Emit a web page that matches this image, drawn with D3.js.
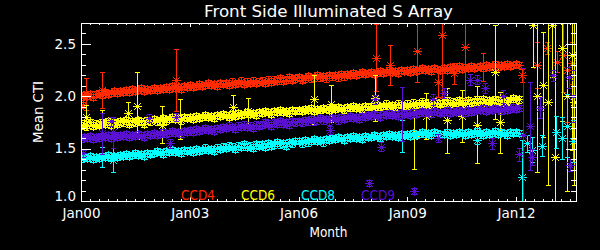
<!DOCTYPE html>
<html><head><meta charset="utf-8">
<script src="https://cdn.jsdelivr.net/npm/d3@7"></script>
<style>body{margin:0;background:#000}svg{display:block}</style>
</head><body><svg id="c" width="600" height="250"></svg>
<script>
const title = "Front Side Illuminated S Array";
const xLabel = "Month";
const yLabel = "Mean CTI";
const ccdNames = ["CCD4", "CCD6", "CCD8", "CCD9"];
const ccdColors = ["#ff2a00", "#ffff00", "#00ffff", "#5a10d0"];
const xMajorYears = [2000, 2003, 2006, 2009, 2012];
const xTickLabels = ["Jan00", "Jan03", "Jan06", "Jan09", "Jan12"];
const yMajor = [1.0, 1.5, 2.0, 2.5];
const yTickLabels = ["1.0", "1.5", "2.0", "2.5"];

// monthly means, starting Jan 2000
const ccd4 = [
1.99,2.01,2.00,2.02,1.99,2.02,2.03,2.01,2.04,2.02,2.03,2.05,
2.03,2.05,2.04,2.06,2.04,2.07,2.05,2.06,2.08,2.05,2.07,2.06,
2.08,2.06,2.08,2.07,2.09,2.07,2.10,2.08,2.09,2.07,2.10,2.09,
2.11,2.09,2.10,2.12,2.10,2.11,2.13,2.11,2.12,2.10,2.13,2.12,
2.13,2.11,2.14,2.12,2.13,2.15,2.12,2.14,2.13,2.15,2.13,2.14,
2.15,2.13,2.16,2.14,2.16,2.15,2.17,2.15,2.16,2.18,2.16,2.17,
2.18,2.16,2.17,2.19,2.17,2.18,2.20,2.18,2.19,2.17,2.20,2.19,
2.20,2.18,2.21,2.19,2.21,2.20,2.22,2.20,2.21,2.23,2.21,2.22,
2.23,2.21,2.22,2.24,2.22,2.23,2.25,2.23,2.24,2.22,2.25,2.24,
2.25,2.23,2.26,2.24,2.25,2.27,2.25,2.26,2.24,2.27,2.26,2.25,
2.27,2.25,2.28,2.26,2.27,2.29,2.26,2.28,2.27,2.29,2.27,2.28,
2.29,2.27,2.30,2.28,2.29,2.31,2.28,2.30,2.29,2.31,2.29,2.30,
2.31,2.30];
const ccd6 = [
1.72,1.74,1.73,1.75,1.72,1.74,1.73,1.75,1.74,1.76,1.73,1.75,
1.74,1.76,1.75,1.77,1.74,1.76,1.75,1.77,1.76,1.74,1.77,1.76,
1.78,1.76,1.77,1.79,1.77,1.78,1.80,1.78,1.79,1.77,1.80,1.79,
1.80,1.78,1.81,1.79,1.80,1.82,1.80,1.81,1.79,1.82,1.81,1.83,
1.82,1.80,1.83,1.81,1.84,1.82,1.83,1.85,1.83,1.84,1.82,1.85,
1.84,1.86,1.85,1.83,1.86,1.85,1.87,1.85,1.86,1.84,1.87,1.86,
1.87,1.86,1.88,1.87,1.89,1.86,1.88,1.87,1.89,1.88,1.87,1.89,
1.88,1.90,1.89,1.87,1.90,1.89,1.91,1.89,1.90,1.88,1.91,1.90,
1.91,1.89,1.92,1.90,1.91,1.93,1.91,1.92,1.90,1.93,1.92,1.91,
1.93,1.91,1.94,1.92,1.93,1.95,1.93,1.94,1.92,1.95,1.94,1.93,
1.94,1.96,1.93,1.95,1.94,1.96,1.95,1.93,1.96,1.94,1.95,1.97,
1.95,1.97,1.94,1.96,1.95,1.97,1.96,1.94,1.97,1.95,1.96,1.98,
1.96,1.97];
const ccd8 = [
1.40,1.42,1.41,1.43,1.40,1.42,1.41,1.43,1.42,1.44,1.41,1.43,
1.42,1.44,1.43,1.45,1.43,1.44,1.46,1.44,1.45,1.43,1.46,1.45,
1.46,1.48,1.47,1.45,1.48,1.47,1.49,1.47,1.48,1.46,1.49,1.48,
1.49,1.47,1.50,1.48,1.49,1.51,1.49,1.50,1.48,1.51,1.50,1.52,
1.51,1.53,1.52,1.50,1.53,1.52,1.54,1.52,1.53,1.51,1.54,1.53,
1.54,1.52,1.55,1.53,1.54,1.56,1.54,1.55,1.53,1.56,1.55,1.57,
1.57,1.55,1.58,1.56,1.57,1.59,1.57,1.58,1.56,1.59,1.58,1.60,
1.59,1.61,1.60,1.58,1.61,1.60,1.62,1.60,1.61,1.59,1.62,1.61,
1.61,1.63,1.62,1.60,1.63,1.62,1.64,1.62,1.63,1.61,1.64,1.63,
1.64,1.62,1.65,1.63,1.64,1.66,1.64,1.65,1.63,1.66,1.65,1.64,
1.64,1.66,1.63,1.65,1.64,1.66,1.65,1.63,1.66,1.64,1.65,1.67,
1.65,1.63,1.66,1.64,1.65,1.67,1.64,1.66,1.65,1.63,1.66,1.65,
1.66,1.65];
const ccd9 = [
1.59,1.61,1.60,1.62,1.59,1.61,1.60,1.62,1.61,1.63,1.60,1.62,
1.61,1.63,1.62,1.64,1.61,1.63,1.62,1.64,1.63,1.61,1.64,1.63,
1.65,1.63,1.64,1.66,1.64,1.65,1.67,1.65,1.66,1.64,1.67,1.66,
1.68,1.66,1.69,1.67,1.68,1.70,1.68,1.69,1.67,1.70,1.69,1.71,
1.70,1.72,1.71,1.69,1.72,1.71,1.73,1.71,1.72,1.70,1.73,1.72,
1.73,1.75,1.74,1.72,1.75,1.74,1.76,1.74,1.75,1.73,1.76,1.75,
1.76,1.75,1.77,1.76,1.78,1.76,1.77,1.79,1.77,1.78,1.76,1.79,
1.79,1.77,1.80,1.78,1.79,1.81,1.79,1.80,1.78,1.81,1.80,1.82,
1.81,1.83,1.82,1.80,1.83,1.82,1.84,1.82,1.83,1.81,1.84,1.83,
1.84,1.82,1.85,1.83,1.84,1.86,1.84,1.85,1.83,1.86,1.85,1.84,
1.85,1.87,1.84,1.86,1.85,1.87,1.86,1.84,1.87,1.85,1.86,1.88,
1.87,1.89,1.86,1.88,1.87,1.89,1.88,1.86,1.89,1.87,1.88,1.90,
1.88,1.89];
const bandErr = [0.03, 0.03, 0.03, 0.03];

// individual points off the trend: [decimal year, value, error]
const ccd4Extra = [
[2000.05,1.92,0.03],[2000.14,2.02,0.15],[2000.57,2.06,0.17],[2002.62,2.155,0.30],
[2008.14,2.37,0.32],[2008.52,2.30,0.19],[2009.28,2.43,0.29],[2009.95,2.585,0.60],
[2010.59,2.47,0.50],[2009.86,2.14,0.15],[2011.08,2.28,0.13],[2010.30,2.22,0.10],
[2012.16,2.20,0.06],[2012.57,2.30,0.22],[2012.85,2.46,0.06],[2013.12,2.33,0.10],
[2013.30,2.39,0.35],[2013.40,2.25,0.50],[2013.54,2.315,0.20]];
const ccd6Extra = [
[2000.14,1.80,0.12],[2000.57,1.73,0.14],[2001.30,1.84,0.11],[2001.55,1.91,0.32],
[2002.23,1.73,0.18],[2002.73,1.78,0.19],[2004.20,1.90,0.11],[2004.62,1.86,0.12],
[2006.43,1.97,0.23],[2006.89,1.93,0.18],[2008.11,1.98,0.22],[2009.19,1.62,0.31],
[2009.52,1.81,0.22],[2010.09,1.77,0.31],[2010.50,1.81,0.25],[2010.92,1.73,0.37],
[2011.42,2.235,0.45],[2011.56,1.75,0.29],[2012.48,2.68,0.40],[2012.57,2.00,0.72],
[2012.75,2.11,0.50],[2012.89,1.95,0.80],[2012.98,2.68,0.50],[2013.08,1.42,1.30],
[2013.26,2.46,0.70],[2013.40,2.00,0.90],[2013.54,2.39,0.90],[2013.60,1.95,0.80]];
const ccd8Extra = [
[2000.57,1.42,0.10],[2000.89,1.39,0.115],[2008.85,1.62,0.15],[2010.92,1.58,0.04],
[2012.16,1.23,0.35],[2012.30,1.55,0.08],[2012.43,1.49,0.12],[2012.71,1.53,0.10],
[2013.10,1.66,0.15],[2013.26,1.60,0.20],[2013.40,1.72,0.30],[2013.58,1.57,0.20]];
const ccd9Extra = [
[2000.05,1.455,0.03],[2000.57,1.645,0.20],[2000.82,1.76,0.04],[2000.89,1.655,0.15],
[2001.88,1.79,0.04],[2002.46,1.55,0.04],[2002.63,1.80,0.04],[2006.88,1.68,0.04],
[2007.95,1.17,0.03],[2008.11,1.97,0.04],[2008.28,1.52,0.04],[2008.85,1.83,0.26],
[2009.19,1.095,0.03],[2009.72,1.97,0.05],[2009.86,1.60,0.04],[2010.01,2.03,0.05],
[2010.73,2.16,0.05],[2010.92,2.16,0.04],[2011.14,2.08,0.05],[2011.33,1.55,0.05],
[2011.65,2.00,0.06],[2012.07,1.445,0.06],[2012.18,1.63,0.64],[2012.39,1.72,0.42],
[2012.43,1.42,0.08],[2012.66,1.89,0.10],[2013.03,2.20,0.05],[2013.45,2.18,0.10],
[2013.49,1.345,0.06],[2013.57,2.00,0.25]];

const bands = [ccd4, ccd6, ccd8, ccd9];
const extras = [ccd4Extra, ccd6Extra, ccd8Extra, ccd9Extra];

const W = 600, H = 250;
const m = {l: 81, r: 576, t: 23, b: 201};
const x = d3.scaleLinear().domain([2000, 2013.655]).range([m.l, m.r]);
const y = d3.scaleLinear().domain([1.0, 2.7]).range([m.b, m.t]);
const font = "'DejaVu Sans', sans-serif";

const svg = d3.select("#c");
svg.append("rect").attr("width", W).attr("height", H).attr("fill", "#000");
svg.append("defs").append("clipPath").attr("id", "clip")
  .append("rect").attr("x", m.l).attr("y", m.t).attr("width", m.r - m.l).attr("height", m.b - m.t);

const plot = svg.append("g").attr("clip-path", "url(#clip)");
const px = v => Math.round(v) + 0.5;

bands.forEach((band, si) => {
  const pts = band.map((v, i) => ({t: 2000 + i / 12, v, e: bandErr[si]}))
    .concat(extras[si].map(d => ({t: d[0], v: d[1], e: d[2]})));
  const g = plot.append("g").attr("stroke", ccdColors[si]).attr("fill", "none")
    .attr("stroke-width", 1).attr("shape-rendering", "crispEdges");
  g.selectAll("path").data(pts).join("path").attr("d", d => {
    const cx = px(x(d.t)), cy = px(y(d.v));
    const y0 = px(y(d.v - d.e)), y1 = px(y(d.v + d.e));
    const c = 2.5, s = 4.5, q = 3.2;
    return `M${cx},${y0}V${y1}M${cx - c},${y0}h${2 * c}M${cx - c},${y1}h${2 * c}` +
      `M${cx - s},${cy}h${2 * s}M${cx},${cy - s}v${2 * s}` +
      `M${cx - q},${cy - q}l${2 * q},${2 * q}M${cx - q},${cy + q}l${2 * q},${-2 * q}`;
  });
});

// axes
const xMinor = d3.range(2000, 2013.66, 0.25);
const yMinor = d3.range(10, 28, 1).map(v => v / 10);
const axG = svg.append("g").attr("font-family", font);
function styleAxis(sel) {
  sel.selectAll("path,line").attr("stroke", "#fff").attr("stroke-width", 1).attr("shape-rendering", "crispEdges");
  sel.selectAll("text").attr("fill", "#fff").attr("font-size", 13.5).attr("font-family", font);
}
axG.append("g").attr("transform", `translate(0,${m.b})`)
  .call(d3.axisBottom(x).tickValues(xMinor).tickSizeInner(-2).tickSizeOuter(0).tickFormat(""))
  .call(styleAxis);
axG.append("g").attr("transform", `translate(0,${m.b})`)
  .call(d3.axisBottom(x).tickValues(xMajorYears).tickSizeInner(-4).tickSizeOuter(0).tickPadding(7.5)
    .tickFormat((d, i) => xTickLabels[i]))
  .call(styleAxis);
axG.append("g").attr("transform", `translate(0,${m.t})`)
  .call(d3.axisTop(x).tickValues(xMinor).tickSizeInner(-2).tickSizeOuter(0).tickFormat(""))
  .call(styleAxis);
axG.append("g").attr("transform", `translate(0,${m.t})`)
  .call(d3.axisTop(x).tickValues(xMajorYears).tickSizeInner(-4).tickSizeOuter(0).tickFormat(""))
  .call(styleAxis);
axG.append("g").attr("transform", `translate(${m.l},0)`)
  .call(d3.axisLeft(y).tickValues(yMinor).tickSizeInner(-5).tickSizeOuter(0).tickFormat(""))
  .call(styleAxis);
const yAxMajor = axG.append("g").attr("transform", `translate(${m.l},0)`)
  .call(d3.axisLeft(y).tickValues(yMajor).tickSizeInner(-10).tickSizeOuter(0).tickPadding(5)
    .tickFormat((d, i) => yTickLabels[i]))
  .call(styleAxis);
// lowest label sits just above the bottom axis line, as in the reference
yAxMajor.selectAll("text").filter(d => d === yMajor[0]).attr("dy", "-0.05em");
axG.append("g").attr("transform", `translate(${m.r},0)`)
  .call(d3.axisRight(y).tickValues(yMinor).tickSizeInner(-5).tickSizeOuter(0).tickFormat(""))
  .call(styleAxis);
axG.append("g").attr("transform", `translate(${m.r},0)`)
  .call(d3.axisRight(y).tickValues(yMajor).tickSizeInner(-10).tickSizeOuter(0).tickFormat(""))
  .call(styleAxis);

// title & labels
svg.append("text").attr("x", (m.l + m.r) / 2).attr("y", 17).attr("text-anchor", "middle")
  .attr("fill", "#fff").attr("font-family", font).attr("font-size", 16)
  .attr("textLength", 249).attr("lengthAdjust", "spacingAndGlyphs").text(title);
svg.append("text").attr("x", (m.l + m.r) / 2).attr("y", 237).attr("text-anchor", "middle")
  .attr("fill", "#fff").attr("font-family", font).attr("font-size", 13.5)
  .attr("textLength", 38).attr("lengthAdjust", "spacingAndGlyphs").text(xLabel);
svg.append("text").attr("transform", `translate(43,${(m.t + m.b) / 2}) rotate(-90)`)
  .attr("text-anchor", "middle").attr("fill", "#fff").attr("font-family", font).attr("font-size", 13.5)
  .attr("textLength", 62).attr("lengthAdjust", "spacingAndGlyphs").text(yLabel);

// legend
svg.append("g").selectAll("text").data(ccdNames).join("text")
  .attr("x", (d, i) => 181 + i * 60).attr("y", 200)
  .attr("fill", (d, i) => ccdColors[i]).attr("font-family", font).attr("font-size", 13.5)
  .attr("textLength", 34).attr("lengthAdjust", "spacingAndGlyphs").text(d => d);
</script></body></html>
